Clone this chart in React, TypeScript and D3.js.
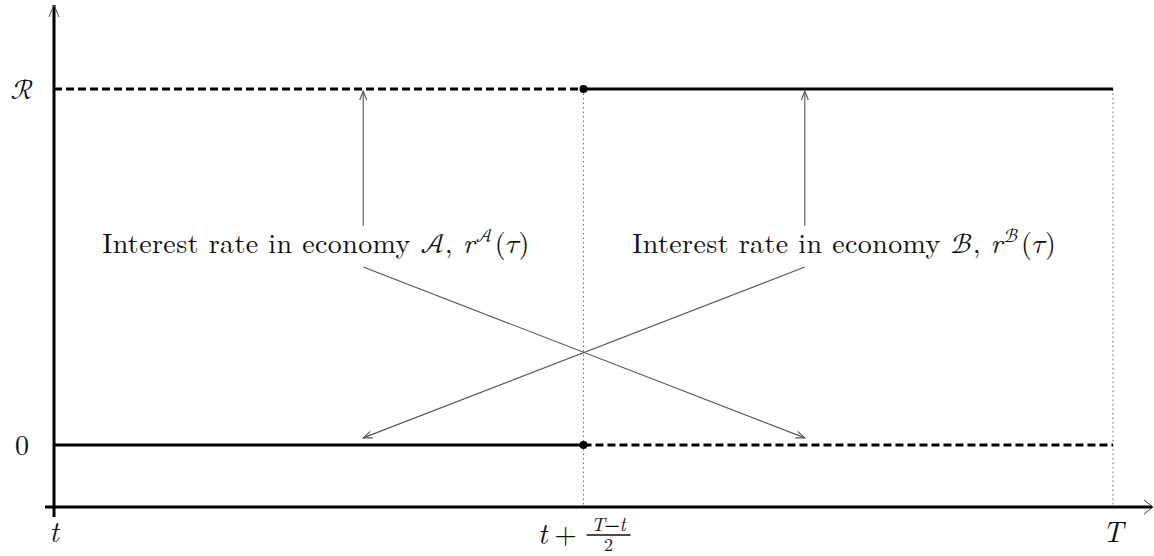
import React from "react";
import * as d3 from "d3";

// ---- data ----
const X_BREAKS = [0, 0.5, 1]; // t, t+(T-t)/2, T (normalised time)
const SERIES_A = [1, 0]; // economy A: rate (in units of R) on each half
const SERIES_B = [0, 1]; // economy B
const Y_TICKS = [0, 1];
const Y_TICK_LABELS = ["0", "\u211B"];
const X_TICKS = [0, 0.5, 1];
const ANNOT_X = [0.292, 0.709]; // arrow anchor positions for labels A, B
const LABEL_X = [0.0455, 0.546];
const LABEL_SCRIPT = ["\uD835\uDC9C", "\u212C"];

const W = 1154;
const H = 556;
const ROMAN = "Latin Modern Roman, Liberation Serif, serif";
const MATH = "Latin Modern Math, Latin Modern Roman, serif";

function chevron(x1: number, y1: number, x2: number, y2: number, len = 9, half = 4) {
  const a = Math.atan2(y2 - y1, x2 - x1);
  const bx = x2 - len * Math.cos(a);
  const by = y2 - len * Math.sin(a);
  const px = -Math.sin(a) * half;
  const py = Math.cos(a) * half;
  return `M${bx + px},${by + py}L${x2},${y2}L${bx - px},${by - py}`;
}

export default function App() {
  const x = d3.scaleLinear().domain([0, 1]).range([54, 1113]);
  const y = d3.scaleLinear().domain([0, 1]).range([445, 89]);
  const axisY = 507;
  const axisX = x(0);

  const segs = (vals: number[], dashed: boolean) =>
    vals.map((v, i) => ({ x0: X_BREAKS[i], x1: X_BREAKS[i + 1], v, dashed }));
  const segments = [...segs(SERIES_A, true), ...segs(SERIES_B, false)];

  const line = d3.line<[number, number]>().x((d) => x(d[0])).y((d) => y(d[1]));

  const annoColor = "#555";
  const arrows: { from: [number, number]; to: [number, number] }[] = [
    { from: [ANNOT_X[0], 0.615], to: [ANNOT_X[0], 1] },
    { from: [ANNOT_X[1], 0.615], to: [ANNOT_X[1], 1] },
    { from: [ANNOT_X[0], 0.5], to: [ANNOT_X[1], 0.02] },
    { from: [ANNOT_X[1], 0.5], to: [ANNOT_X[0], 0.02] },
  ];

  const roman = { fontFamily: ROMAN };
  const math = { fontFamily: MATH };
  const ital = { fontFamily: ROMAN, fontStyle: "italic" as const };

  return (
    <svg
      width={W}
      height={H}
      style={{ position: "absolute", left: 0, top: 0, background: "#fff" }}
    >
      {/* dotted verticals */}
      {X_TICKS.slice(1).map((t) => (
        <line
          key={"v" + t}
          x1={x(t)}
          x2={x(t)}
          y1={y(1)}
          y2={axisY}
          stroke="#666"
          strokeWidth={1}
          strokeDasharray="1.5 3"
        />
      ))}

      {/* axes */}
      <line x1={45} x2={1152} y1={axisY} y2={axisY} stroke="#000" strokeWidth={3} />
      <path d={chevron(1100, axisY, 1153, axisY, 9, 7)} fill="none" stroke="#444" strokeWidth={1} />
      <line x1={axisX} x2={axisX} y1={517} y2={5} stroke="#000" strokeWidth={3} />
      <path d={chevron(axisX, 100, axisX, 5, 12, 5)} fill="none" stroke="#444" strokeWidth={1} />

      {/* series */}
      {segments.map((s, i) => (
        <path
          key={"s" + i}
          d={line([
            [s.x0, s.v],
            [s.x1, s.v],
          ]) as string}
          stroke="#000"
          strokeWidth={3}
          strokeDasharray={s.dashed ? "8 4" : undefined}
          fill="none"
        />
      ))}
      {Y_TICKS.map((v) => (
        <circle key={"c" + v} cx={x(0.5)} cy={y(v)} r={4} fill="#000" />
      ))}

      {/* annotation arrows */}
      {arrows.map((a, i) => {
        const x1 = x(a.from[0]);
        const y1 = y(a.from[1]);
        const x2 = x(a.to[0]);
        const y2 = y(a.to[1]) + (a.to[1] === 1 ? 2 : 0);
        return (
          <g key={"a" + i} stroke={annoColor} strokeWidth={1.1} fill="none">
            <line x1={x1} y1={y1} x2={x2} y2={y2} />
            <path d={chevron(x1, y1, x2, y2, 9, 3.5)} />
          </g>
        );
      })}

      {/* labels */}
      {LABEL_X.map((lx, i) => (
        <text
          key={"l" + i}
          x={x(lx)}
          y={y(0.538)}
          fontSize={28}
          fill="#111"
          style={{ ...roman, letterSpacing: "0.4px" }}
        >
          {"Interest rate in economy "}
          <tspan style={math}>{LABEL_SCRIPT[i]}</tspan>
          {", "}
          <tspan style={ital}>r</tspan>
          <tspan dy={-11} dx={1} fontSize={19} style={math}>
            {LABEL_SCRIPT[i]}
          </tspan>
          <tspan dy={11} dx={2}>(</tspan>
          <tspan style={math}>{"\u{1D70F}"}</tspan>
          <tspan>)</tspan>
        </text>
      ))}

      {/* y tick labels */}
      {Y_TICKS.map((v, i) => (
        <text
          key={"yt" + v}
          x={22}
          y={y(v) + 10}
          fontSize={28}
          textAnchor="middle"
          style={i === 1 ? math : roman}
          fill="#111"
        >
          {Y_TICK_LABELS[i]}
        </text>
      ))}

      {/* x tick labels */}
      <text x={x(X_TICKS[0])} y={542} fontSize={29} textAnchor="middle" fill="#111" style={ital}>
        t
      </text>
      <text x={x(X_TICKS[2])} y={542} fontSize={29} textAnchor="middle" fill="#111" style={ital}>
        T
      </text>
      <g transform={`translate(${x(X_TICKS[1])},0)`} fill="#111">
        <text x={-41} y={544} fontSize={29} textAnchor="middle" style={ital}>
          t
        </text>
        <text x={-18} y={544} fontSize={29} textAnchor="middle" style={roman}>
          +
        </text>
        <text x={25} y={531} fontSize={19} textAnchor="middle" style={roman}>
          <tspan style={ital}>T</tspan>
          <tspan style={math} fontWeight="bold">{"\u2212"}</tspan>
          <tspan style={ital}>t</tspan>
        </text>
        <line x1={3} x2={47} y1={535} y2={535} stroke="#111" strokeWidth={1.3} />
        <text x={25} y={551} fontSize={18} textAnchor="middle" style={roman}>
          2
        </text>
      </g>
    </svg>
  );
}
